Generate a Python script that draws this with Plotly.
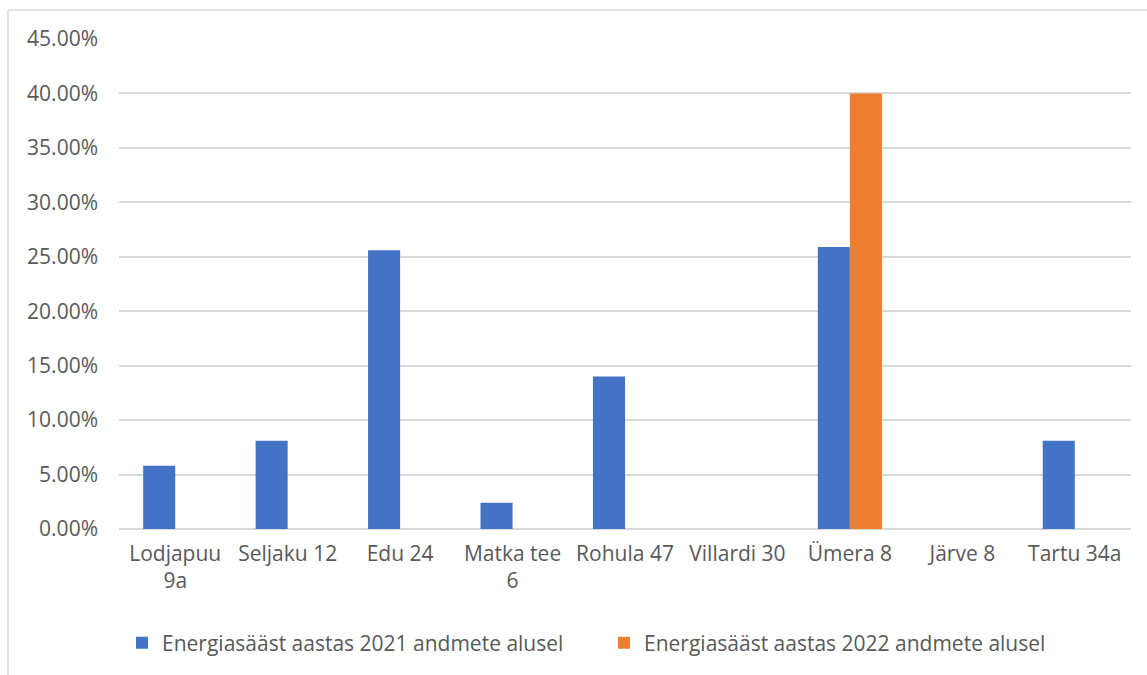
import plotly.graph_objects as go

categories = ["Lodjapuu<br>9a", "Seljaku 12", "Edu 24", "Matka tee<br>6", "Rohula 47",
              "Villardi 30", "Ümera 8", "Järve 8", "Tartu 34a"]
series_2021 = [0.058, 0.081, 0.256, 0.024, 0.140, None, 0.259, None, 0.081]
series_2022 = [None, None, None, None, None, None, 0.400, None, None]
name_2021 = "Energiasääst aastas 2021 andmete alusel"
name_2022 = "Energiasääst aastas 2022 andmete alusel"
y_ticks = [0, 0.05, 0.10, 0.15, 0.20, 0.25, 0.30, 0.35, 0.40, 0.45]

W, H = 1147, 675
L, R, T, B = 119, 1131, 39, 529

fig = go.Figure()
fig.add_trace(go.Bar(x=categories, y=series_2021, name=name_2021,
                     marker=dict(color="#4472C4", line=dict(width=0))))
fig.add_trace(go.Bar(x=categories, y=series_2022, name=name_2022,
                     marker=dict(color="#ED7D31", line=dict(width=0))))

def px2x(p):
    return (p - L) / (R - L)

def py2y(p):
    return (B - p) / (B - T)

fig.update_layout(
    width=W, height=H,
    margin=dict(l=L, r=W - R, t=T, b=H - B, pad=0, autoexpand=False),
    barmode="group", bargap=0.43, bargroupgap=0,
    plot_bgcolor="white", paper_bgcolor="white",
    font=dict(family="Open Sans", size=21, color="#595959"),
    showlegend=True,
    legend=dict(orientation="h", x=px2x(122), xanchor="left", y=py2y(643), yanchor="middle",
                font=dict(size=21, color="#595959"), itemsizing="constant",
                traceorder="normal", entrywidth=437, itemwidth=30),
    xaxis=dict(showgrid=False, showline=False, ticks="", tickfont=dict(size=21),
               ticklabelstandoff=10, fixedrange=True),
    yaxis=dict(range=[0, 0.45], tickvals=y_ticks, tickformat=".2%",
               showgrid=True, gridcolor="#D9D9D9", gridwidth=1.5,
               zeroline=True, zerolinecolor="#D9D9D9", zerolinewidth=1.5,
               showline=False, ticks="", tickfont=dict(size=21),
               ticklabelstandoff=20),
    shapes=[
        dict(type="line", xref="paper", yref="paper", x0=px2x(8), x1=px2x(1147),
             y0=py2y(10), y1=py2y(10), line=dict(color="#D9D9D9", width=1.5)),
        dict(type="line", xref="paper", yref="paper", x0=px2x(8), x1=px2x(8),
             y0=py2y(10), y1=py2y(676), line=dict(color="#D9D9D9", width=1.5)),
    ],
)

fig.write_html("out.html")
